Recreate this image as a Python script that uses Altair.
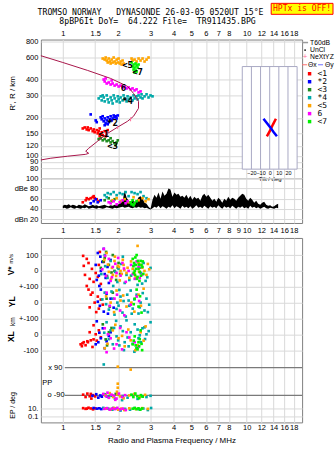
import math
import altair as alt
import pandas as pd

FONT = "Liberation Sans"
MONO = "DejaVu Sans Mono"

SERIES = ["<1", "*2", "<3", "*4", "<5", "6", "<7"]
COLORS = ["#ff0000", "#0000ff", "#1f8c1f", "#00a8a8", "#ffa500", "#ff00ff", "#00f000"]

FREQ_TOP = [1, 1.5, 2, 3, 4, 5, 6, 7, 8, 10, 12, 14, 16, 18]
FREQ_MID = [1, 1.5, 2, 3, 4, 5, 6, 7, 8, 9, 10, 12, 14, 16, 18]
HEIGHT_TICKS = [800, 600, 400, 300, 200, 150, 120, 100, 90, 80]
DB_TICKS = [100, 80, 60, 40, 20]
TILT_TICKS = [-20, -10, 0, 10, 20]
PP_LINES = [90, -90]

TITLE_1 = "TROMSO NORWAY\u00a0\u00a0\u00a0DYNASONDE 26-03-05 0520UT 15\u00b0E"
TITLE_2 = "8pBP6It DoY=\u00a0\u00a064.222 File=\u00a0\u00a0TR911435.BPG"
BADGE = "HPTx is OFF!"

# ---- top panel: echoes (frequency MHz, virtual height km)
ECHO_TOP = {
    "<1": [(1.284,165),(1.316,168),(1.349,162),(1.366,168),(1.383,160),(1.418,165),(1.454,157),(1.472,162),(1.491,154),(1.529,160),(1.548,151),(1.567,157),(1.587,165),(1.607,148),(1.627,154),(1.648,146),(1.689,157),(1.71,143),(1.732,151),(1.754,160),(1.587,143)],
    "*2": [(1.418,213),(1.51,191),(1.529,185),(1.607,202),(1.627,195),(1.648,206),(1.668,188),(1.689,198),(1.71,181),(1.732,191),(1.754,202),(1.776,185),(1.80,195),(1.82,206),(1.843,191),(1.866,198),(1.89,209),(1.913,202),(1.94,206),(1.962,198),(1.99,209),(1.689,175),(1.754,178)],
    "<3": [(1.567,136),(1.607,138),(1.648,133),(1.689,136),(1.732,131),(1.776,133),(1.82,128),(1.866,131),(1.913,126),(1.962,128),(1.99,133),(1.94,122),(1.82,138)],
    "*4": [(1.567,285),(1.607,296),(1.627,275),(1.668,290),(1.689,270),(1.732,301),(1.754,280),(1.776,265),(1.82,290),(1.843,275),(1.866,260),(1.89,301),(1.913,285),(1.962,270),(1.99,296),(2.011,280),(2.04,265),(2.062,290),(2.114,275),(2.14,301),(2.168,285),(2.223,270),(2.25,296),(2.279,280),(2.336,290),(2.395,275),(2.425,301),(2.456,285),(2.518,296),(2.55,280),(2.582,301),(2.647,290),(2.68,307),(2.714,285),(2.783,296),(2.853,307),(2.925,290),(2.999,301),(3.075,296),(1.648,301)],
    "<5": [(1.648,589),(1.689,578),(1.71,600),(1.732,568),(1.754,548),(1.776,589),(1.80,558),(1.82,538),(1.843,578),(1.866,548),(1.89,600),(1.913,558),(1.94,538),(1.962,578),(1.99,548),(2.011,589),(2.04,538),(2.062,558),(2.09,528),(2.114,568),(2.14,538),(2.365,589),(2.395,568),(2.456,578),(2.518,558),(2.582,589),(2.647,568),(2.714,589),(2.783,558),(2.853,578),(2.925,600)],
    "6": [(1.668,402),(1.689,388),(1.71,410),(1.732,374),(1.776,381),(1.82,367),(1.866,374),(1.913,360),(1.962,367),(2.011,354),(2.062,360),(2.114,348),(2.168,354),(2.223,342),(2.279,348),(2.336,336),(2.395,342),(2.456,330),(2.518,336),(2.582,318),(2.647,324),(1.843,395)],
    "<7": [(2.365,548),(2.425,528),(2.487,538),(2.395,509),(2.456,500),(2.518,519),(2.425,482),(2.487,474),(2.55,500),(2.456,457),(2.582,528),(2.518,465)],
}
ECHO_LABELS = [("<1",1.668,148),("*2",1.866,181),("<3",1.866,119),("*4",2.25,270),("<5",2.25,528),("6",2.14,342),("<7",2.55,457)]

PROFILE_F = [0.76,1.0,1.366,1.82,2.25,2.425,2.58,2.58,2.425,2.25,1.987,1.753,1.548,1.383,1.332,1.383,1.332,1.064,0.861,0.76]
PROFILE_R = [620,548,474,410,355,312,270,238,206,188,169,151,131,115,109,105,103,99.6,96,93]
PROFILE_ERR = [(2.336,188,202),(1.987,163,174),(1.75,146,156)]

# tilt inset
TILT_FRAME = [-30, 30]
TILT_HEIGHTS = [78.7, 509]
THETA_X = [(-3.1,143),(0.5,159),(3.5,177),(6.8,197)]
THETA_Y = [(-6.8,197),(-3.8,185),(0.5,169),(4.4,154),(7.9,143)]

# ---- amplitude panel (frequency, top dB, bottom dB)
NOISE = [
    (1.000,46,41),(1.025,48,42),(1.051,47,40),(1.078,49,41),(1.105,46,43),(1.133,48,41),(1.161,47,40),(1.191,45,42),
    (1.221,48,41),(1.252,47,40),(1.284,46,42),(1.316,49,41),(1.349,47,43),(1.383,45,40),(1.418,46,41),(1.454,48,42),
    (1.491,46,41),(1.529,47,40),(1.567,45,42),(1.607,46,41),(1.648,47,40),(1.689,48,41),(1.732,46,43),(1.776,45,42),
    (1.820,47,41),(1.866,46,40),(1.913,48,42),(1.962,47,41),(2.011,49,42),(2.062,52,43),(2.114,55,44),
    (2.168,76,42),(2.223,62,43),(2.279,56,44),(2.336,52,42),(2.395,58,41),(2.456,54,43),(2.518,55,42),(2.582,63,44),
    (2.647,65,42),(2.714,60,43),(2.783,52,41),(2.853,50,42),(2.925,44,40),
    (2.999,40,39),(3.075,58,41),(3.152,68,44),(3.232,62,42),(3.314,72,46),(3.398,60,41),(3.483,74,45),(3.571,66,43),
    (3.662,70,40),(3.754,80,44),(3.849,78,42),(3.946,64,47),(4.046,72,41),(4.148,68,45),(4.253,70,43),(4.360,64,40),
    (4.470,66,46),(4.583,62,42),(4.699,68,44),(4.818,60,41),(4.939,66,45),(5.064,58,40),(5.192,64,43),(5.323,60,47),
    (5.458,62,42),(5.595,56,44),(5.737,66,41),(5.882,70,46),(6.030,64,43),(6.183,68,40),(6.339,62,45),(6.501,56,42),
    (6.664,60,44),(6.833,54,41),(7.005,62,47),(7.183,58,43),(7.364,52,40),(7.551,60,45),(7.741,56,42),(7.937,64,44),
    (8.138,58,41),(8.343,62,46),(8.554,60,43),(8.771,56,40),(8.993,62,44),(9.221,66,42),(9.454,70,45),(9.692,68,41),
    (9.938,60,43),(10.19,56,40),(10.45,62,46),(10.71,58,42),(10.98,52,44),(11.26,56,41),(11.54,50,43),(11.84,48,40),
    (12.13,52,42),(12.44,54,44),(12.76,48,41),(13.08,46,40),(13.41,47,42),(13.75,44,41),(14.10,45,40),(14.45,48,42),
    (14.82,50,41),
]
ECHO_DB = {
    "<1": [(1.284,53),(1.332,57),(1.383,59),(1.418,61),(1.454,63),(1.491,61),(1.529,59),(1.349,61),(1.472,65),(1.567,55)],
    "*2": [(1.418,51),(1.472,55),(1.51,59),(1.548,53),(1.607,57)],
    "<3": [(1.689,57),(1.776,61),(1.913,59),(1.843,55)],
    "*4": [(1.689,67),(1.754,71),(1.82,69),(1.89,73),(1.962,67),(2.04,71),(2.114,69),(2.195,73),(2.279,65),(2.365,73),(2.456,71),(2.55,69),(2.647,73),(2.748,65),(1.732,63),(2.853,61)],
    "<5": [(1.866,57),(1.962,61),(2.062,55),(2.168,59),(2.279,53),(2.425,63),(2.582,57),(2.714,61),(2.818,55),(2.925,59)],
    "6": [(1.82,51),(1.89,55),(1.962,49),(2.04,53),(2.114,57),(2.195,51),(1.776,53),(2.25,55)],
    "<7": [(2.336,53),(2.395,57),(2.456,51),(2.518,55),(2.425,47),(2.365,49)],
}

# ---- lower panel (frequency, value) per band
V_DATA = {
    "<1": [(1.35,76),(1.30,32),(1.38,50),(1.44,13),(1.51,-13),(1.32,-25),(1.40,-50),(1.47,-69),(1.55,-38),(1.61,-82),(1.35,-95),(1.57,38),(1.67,57),(1.29,95),(1.59,120)],
    "*2": [(1.55,113),(1.67,139),(1.51,38),(1.61,0),(1.71,-44),(1.78,-76),(1.53,-57),(1.82,69),(1.58,-95),(1.64,57),(1.75,25),(1.60,90),(1.69,-20),(1.57,-30)],
    "<3": [(1.69,82),(1.78,38),(1.87,100),(1.91,0),(2.01,50),(1.61,19),(1.74,-32),(1.95,-57),(2.05,-19),(1.66,60),(1.84,-10),(1.99,20),(1.72,120)],
    "*4": [(1.82,63),(2.01,13),(2.22,-25),(2.46,38),(2.65,-13),(2.82,-63),(3.00,19),(1.69,100),(2.17,-76),(1.75,-44),(1.93,-6),(2.08,44),(2.30,-57),(2.55,-88),(2.75,50),(1.88,-95),
           (1.62,-20),(1.70,30),(1.98,-70),(2.12,90),(2.35,-30),(2.62,20),(2.88,-40),(2.70,-80)],
    "<5": [(1.73,113),(1.91,63),(1.99,32),(2.06,0),(2.14,38),(2.22,-13),(2.40,13),(2.49,-38),(2.65,38),(2.78,0),(2.55,158),(1.87,-25),(1.78,-6),(1.85,19),(1.95,-32),(2.02,25),(2.09,-19),(2.16,6),(2.30,-44),(2.60,-6),(2.85,-25),(2.90,44),
           (1.68,70),(1.76,40),(1.83,-50),(1.92,90),(2.04,-60),(2.12,70),(2.35,60),(2.45,-15),(2.58,50),(2.70,20),(2.95,10),(2.25,20)],
    "6": [(1.67,139),(1.78,76),(1.87,25),(1.96,-13),(2.11,50),(2.28,0),(2.46,-50),(2.58,25),(1.82,-63),(1.72,-32),(2.00,82),(2.20,-69),(2.35,38),(2.70,-25),
          (1.64,10),(1.70,95),(1.85,-40),(1.93,45),(2.06,-30),(2.15,15),(2.40,-20),(2.52,60),(2.62,-45)],
    "<7": [(2.40,76),(2.49,38),(2.58,13),(2.65,63),(2.43,-13),(2.55,-38),(2.71,25),(2.52,100),(2.61,-63),(2.44,50),(2.47,-25),(2.50,13),(2.56,63),(2.62,-6),(2.68,38),(2.74,-19),
           (2.42,30),(2.46,0),(2.53,-50),(2.59,40),(2.66,-30),(2.72,60),(2.48,85)],
}
YL_DATA = {
    "<1": [(1.38,82),(1.45,63),(1.55,38),(1.61,19),(1.49,0),(1.65,-13),(1.42,50),(1.57,-38),(1.40,-30),(1.52,-60)],
    "*2": [(1.61,82),(1.73,57),(1.82,25),(1.55,6),(1.89,-32),(1.67,-57),(1.59,-20),(1.76,-70)],
    "<3": [(1.73,25),(1.87,63),(1.80,-25)],
    "*4": [(1.69,63),(1.87,25),(2.01,-19),(2.11,-63),(2.28,13),(2.40,-38),(2.52,50),(2.65,0),(2.78,-50),(2.06,38),(1.91,-76),(2.85,25),(2.34,76),(1.78,-44),(2.20,-88),(2.58,-69),(2.95,-13),
           (1.64,20),(1.72,-10),(1.84,70),(1.96,-40),(2.03,80),(2.14,10),(2.24,50),(2.37,-70),(2.45,20),(2.62,-30),(2.72,60),(2.90,-60),(1.98,0),(2.30,-20)],
    "<5": [(1.96,76),(2.06,13),(2.22,-25),(2.58,50),(1.82,0),(2.45,-57),(2.75,88),(1.72,40),(1.90,-60),(2.13,45),(2.36,0),(2.66,-20)],
    "6": [(1.73,63),(1.91,25),(2.34,-13),(2.52,38),(2.05,-50),(1.80,-20),(1.97,50),(2.16,-80),(2.60,10)],
    "<7": [(2.46,25),(2.58,-25),(2.68,-63),(2.52,82),(2.43,-10),(2.63,40)],
}
XL_DATA = {
    "<1": [(1.47,57),(1.40,13),(1.51,0),(1.30,-50),(1.37,-50),(1.42,-38),(1.47,-32),(1.25,-63),(1.33,-69),(1.57,25),(1.61,-19),(1.28,-57),(1.36,-44),(1.45,-80),(1.53,-40),(1.27,-75)],
    "*2": [(1.53,82),(1.65,38),(1.61,-25),(1.51,-63),(1.73,-44),(1.82,13),(1.69,-88),(1.56,-50),(1.58,10),(1.78,-10)],
    "<3": [(1.65,63),(1.78,13),(1.71,-32),(1.74,-70),(1.84,40)],
    "*4": [(1.73,76),(1.82,25),(1.96,-13),(2.06,50),(2.17,-50),(2.34,13),(2.46,63),(2.58,-25),(2.71,38),(2.85,0),(3.00,76),(1.87,-63),(2.28,-76),(2.52,-88),(2.22,88),(2.00,-38),(2.62,-6),(2.78,44),
           (1.68,10),(1.78,-30),(1.90,40),(2.03,-70),(2.12,20),(2.25,-20),(2.40,-60),(2.55,30),(2.66,-50),(2.80,-30),(2.93,20),(1.95,85),(2.15,-100),(2.45,-110)],
    "<5": [(1.87,25),(2.01,-25),(2.17,-76),(2.34,-38),(2.65,13),(2.82,50),(1.69,-88),(2.48,-100),(1.75,-60),(1.93,60),(2.10,-10),(2.27,30),(2.55,-70),(2.75,-40)],
    "6": [(1.69,38),(1.82,-25),(1.96,-63),(2.22,13),(2.46,-50),(1.73,-113),(2.10,-95),(1.76,0),(1.90,-90),(2.05,40),(2.30,-20),(2.58,-80)],
    "<7": [(2.46,-13),(2.58,-50),(2.52,-88),(2.65,25),(2.40,-63),(2.60,-75),(2.43,-40),(2.49,-70),(2.55,-95),(2.62,-30),(2.68,-60),(2.70,-100)],
}
PP_DATA = {
    "<1": [(1.29,-85),(1.33,-100),(1.36,-78),(1.40,-95),(1.43,-110),(1.46,-88),(1.50,-96),(1.42,-80)],
    "*2": [(1.45,-92),(1.52,-82),(1.56,-104),(1.60,-90),(1.63,-98)],
    "<3": [(1.70,-84),(1.78,-100),(1.86,-92),(1.94,-80)],
    "*4": [(1.67,110),(1.68,-82),(1.74,-98),(1.82,-90),(1.92,-110),(2.00,-86),(2.12,-94),(2.25,-104),(2.40,-88),(2.55,-112),(2.70,-95),(2.85,-100),(3.00,-92),(2.10,-120)],
    "<5": [(1.70,-90),(1.80,-75),(1.88,-100),(1.98,-84),(2.05,-96),(2.14,-108),(2.30,-90),(2.45,-80),(2.62,-100),(2.80,-86),(1.99,96),(2.34,77),(1.99,-14),(1.99,-40),(1.97,-66)],
    "6": [(1.66,-80),(1.72,-95),(1.78,-105),(1.84,-85),(1.90,-92),(1.96,-110),(2.02,-78),(2.10,-100),(2.18,-88),(1.75,-72),(1.93,-118)],
    "<7": [(2.36,-85),(2.42,-100),(2.48,-78),(2.54,-95),(2.60,-108),(2.66,-88),(2.72,-98)],
}
EP_DATA = {
    "<1": [(1.29,12),(1.33,8),(1.38,15),(1.42,10),(1.46,6),(1.50,11),(1.35,9)],
    "*2": [(1.47,13),(1.53,9),(1.58,11),(1.62,7)],
    "<3": [(1.72,11),(1.80,7),(1.88,13)],
    "*4": [(1.66,14),(1.76,9),(1.86,5),(1.96,11),(2.06,3),(2.18,8),(2.32,5),(2.46,12),(2.60,6),(2.74,10),(2.90,4),(3.02,13)],
    "<5": [(1.72,10),(1.82,6),(1.90,12),(2.00,5),(2.08,9),(2.16,4),(2.30,11),(2.50,7),(2.70,12),(2.90,8)],
    "6": [(1.68,8),(1.74,12),(1.80,5),(1.86,10),(1.92,7),(1.98,14),(2.05,6),(2.12,9),(2.20,4)],
    "<7": [(2.40,9),(2.46,13),(2.52,7),(2.58,11),(2.64,5),(2.70,10)],
}


# composite vertical coordinate of the lower panel
def pp_u(v):
    return -698 + 0.978 * v


def ep_u(v):
    return -893 + 25 * math.log10(v)


BAND_U = {"V": lambda v: v, "YL": lambda v: v - 200, "XL": lambda v: v - 400, "PP": pp_u, "EP": ep_u}
LOW_TICKS = [100, 0, -100, -200, -300, -400, -500, ep_u(10), ep_u(0.1)]
LOW_LABELS = ["100", "0", "+-100", "0", "+-100", "0", "-100", "10.", "0.1"]
LOW_EXPR = " : ".join(f"datum.value == {v} ? '{t}'" for v, t in zip(LOW_TICKS, LOW_LABELS)) + " : ''"


def series_frame(d, cols):
    rows = [(s,) + tuple(p) for s, pts in d.items() for p in pts]
    return pd.DataFrame(rows, columns=["s"] + cols)


echo_df = series_frame(ECHO_TOP, ["f", "r"])
lab_df = pd.DataFrame(ECHO_LABELS, columns=["t", "f", "r"])
prof_df = pd.DataFrame({"f": PROFILE_F, "r": PROFILE_R, "i": list(range(len(PROFILE_F)))})
err_df = pd.DataFrame(PROFILE_ERR, columns=["f", "r", "r2"])
box_df = pd.DataFrame({"tilt": [TILT_FRAME[0]], "tilt2": [TILT_FRAME[1]], "r": [TILT_HEIGHTS[0]], "r2": [TILT_HEIGHTS[1]]})
vl_df = pd.DataFrame({"tilt": TILT_TICKS, "r": [TILT_HEIGHTS[0]] * len(TILT_TICKS), "r2": [TILT_HEIGHTS[1]] * len(TILT_TICKS)})
tx_df = pd.DataFrame(THETA_X, columns=["tilt", "r"]).assign(i=lambda d: range(len(d)))
ty_df = pd.DataFrame(THETA_Y, columns=["tilt", "r"]).assign(i=lambda d: range(len(d)))
noise_df = pd.DataFrame(NOISE, columns=["f", "db", "db2"])
edb_df = series_frame(ECHO_DB, ["f", "db"])
low_rows = []
for band, d in [("V", V_DATA), ("YL", YL_DATA), ("XL", XL_DATA), ("PP", PP_DATA), ("EP", EP_DATA)]:
    for s, pts in d.items():
        for f, v in pts:
            low_rows.append((s, f, BAND_U[band](v)))
low_df = pd.DataFrame(low_rows, columns=["s", "f", "u"])
pp_df = pd.DataFrame({"u": [pp_u(v) for v in PP_LINES]})
ONE = pd.DataFrame({"k": [0]})

# ---- scales & axes
XSCALE = alt.Scale(type="log", domain=[0.76, 20.0], nice=False)
RSCALE = alt.Scale(type="log", domain=[66.8, 832], nice=False)
DBSCALE = alt.Scale(domain=[12.2, 100.5], nice=False, zero=False)
USCALE = alt.Scale(domain=[-956, 208], nice=False, zero=False)
TSCALE = alt.Scale(domain=TILT_FRAME, range=[202, 257], nice=False, zero=False)

AX = dict(labelFont=FONT, labelFontSize=7.5, labelColor="#000000", domain=False, ticks=False,
          gridColor="#d9d9d9", gridWidth=1, labelOverlap=False, labelFlush=False)

XTOP = alt.Axis(orient="top", values=FREQ_TOP, format="~g", labelPadding=2, title=None, **AX)
XMID = alt.Axis(orient="bottom", values=FREQ_MID, format="~g", labelPadding=4, title=None, **AX)
XBOT = alt.Axis(orient="bottom", values=FREQ_TOP, format="~g", labelPadding=1,
                title="Radio and Plasma Frequency / MHz", titleFont=FONT, titleFontSize=8,
                titleFontWeight="normal", titlePadding=6, **AX)
YR = alt.Axis(values=HEIGHT_TICKS, format="d", labelPadding=3, title=None, **AX)
YDB = alt.Axis(values=DB_TICKS, labelPadding=3, title=None,
               labelExpr="datum.value == 80 ? 'dBe 80' : datum.value == 20 ? 'dBn 20' : datum.label", **AX)
YLOW = alt.Axis(values=LOW_TICKS, labelExpr=LOW_EXPR, labelPadding=3, title=None, **AX)
XTILT = alt.Axis(orient="bottom", offset=-9, values=TILT_TICKS, labelFont=FONT, labelFontSize=5.5,
                 labelPadding=1, domain=False, ticks=False, grid=False, labelOverlap=False,
                 labelFlush=False, title="Tilt / deg", titleFont=FONT, titleFontSize=6,
                 titleFontWeight="normal", titlePadding=0)

LEG = alt.Legend(orient="none", legendX=265.5, legendY=30.3, title=None, symbolType="square",
                 symbolSize=12, symbolStrokeWidth=0, symbolOffset=0, labelFont=MONO, labelFontSize=8,
                 labelOffset=4, rowPadding=0, padding=0)
COLOR = alt.Color("s:N", scale=alt.Scale(domain=SERIES, range=COLORS), legend=LEG)

xf_top = alt.X("f:Q", scale=XSCALE, axis=XTOP)
xf_mid = alt.X("f:Q", scale=XSCALE, axis=XMID)
xf_bot = alt.X("f:Q", scale=XSCALE, axis=XBOT)
y_r = alt.Y("r:Q", scale=RSCALE, axis=YR)
y_db = alt.Y("db:Q", scale=DBSCALE, axis=YDB)
y_u = alt.Y("u:Q", scale=USCALE, axis=YLOW)
x_t = alt.X("tilt:Q", scale=TSCALE, axis=XTILT)


def note(text, x, y, size=7.5, font=FONT, color="black", align="left", angle=0, weight="normal"):
    return alt.Chart(ONE).mark_text(text=text, font=font, fontSize=size, color=color, align=align,
                                    baseline="middle", angle=angle, fontWeight=weight).encode(
        x=alt.value(x), y=alt.value(y))


def seg(x1, x2, y1, y2, color, width=1.0):
    return alt.Chart(ONE).mark_rule(color=color, strokeWidth=width).encode(
        x=alt.value(x1), x2=alt.value(x2), y=alt.value(y1), y2=alt.value(y2))


# ---- top panel
echo = alt.Chart(echo_df).mark_square(size=7, opacity=1).encode(x=xf_top, y=y_r, color=COLOR)
profile = alt.Chart(prof_df).mark_line(color="#a8164a", strokeWidth=1).encode(x=xf_top, y=y_r, order="i:Q")
errs = alt.Chart(err_df).mark_rule(color="#ff6f9a", strokeWidth=1).encode(x=xf_top, y=y_r, y2="r2:Q")
labels = alt.Chart(lab_df).mark_text(font=MONO, fontSize=9, fontWeight="bold", color="black").encode(
    x=xf_top, y=y_r, text="t:N")

badge_box = alt.Chart(ONE).mark_rect(fill="#ffff00", stroke="#ff0000", strokeWidth=1).encode(
    x=alt.value(231), x2=alt.value(293), y=alt.value(-36.3), y2=alt.value(-25.3))
annos = [
    seg(-40, -39, -38, -38, "white", 0.5),
    note(TITLE_1, 110, -26.3, size=8.2, font=MONO, align="center"),
    note(TITLE_2, 117, -17.5, size=8.2, font=MONO, align="center"),
    badge_box,
    note(BADGE, 262, -30.6, size=8.1, font=MONO, color="#ff0000", align="center"),
    note("R', R / km", -27.5, 54, size=8, align="center", angle=270),
    seg(262, 268, 3, 3, "#9a9a9a", 1.5),
    note("T60dB", 270, 3, size=6.8),
    alt.Chart(ONE).mark_circle(size=3, color="black", opacity=1).encode(x=alt.value(265), y=alt.value(10.5)),
    note("UnCl", 270, 10.5, size=6.8),
    note("+", 265, 17.5, size=8, color="#ff6f9a", align="center"),
    note("NeXtYZ", 270, 17.5, size=6.8),
    seg(262, 267, 25.3, 25.3, "#ff6f6f", 1),
    note("\u0398x", 268, 25.3, size=6.8),
    seg(278, 283, 25.3, 25.3, "#6f6fff", 1),
    note("\u0398y", 285, 25.3, size=6.8),
]
main = alt.layer(echo, profile, errs, labels, *annos)

box = alt.Chart(box_df).mark_rect(fill="white", stroke="#a9a9c4", strokeWidth=1).encode(
    x=x_t, x2="tilt2:Q", y=y_r, y2="r2:Q")
vlines = alt.Chart(vl_df).mark_rule(color="#a9a9c4", strokeWidth=1).encode(x=x_t, y=y_r, y2="r2:Q")
cross_x = alt.Chart(tx_df).mark_line(color="#ff0000", strokeWidth=2.5).encode(x=x_t, y=y_r, order="i:Q")
cross_y = alt.Chart(ty_df).mark_line(color="#0000ff", strokeWidth=2.5).encode(x=x_t, y=y_r, order="i:Q")
inset = alt.layer(box, vlines, cross_x, cross_y)

top = alt.layer(main, inset).resolve_scale(x="independent").properties(width=262, height=139)

# ---- amplitude panel
noise = alt.Chart(noise_df).mark_area(color="black", interpolate="linear").encode(x=xf_mid, y=y_db, y2="db2:Q")
edb = alt.Chart(edb_df).mark_square(size=7, opacity=1).encode(x=xf_mid, y=y_db, color=COLOR)
dbe = alt.layer(noise, edb, seg(-40, -39, 58, 58, "white", 0.5)).properties(width=262, height=45)

# ---- lower panel
pp_rules = alt.Chart(pp_df).mark_rule(color="#7a7a7a", strokeWidth=1.3).encode(
    x=alt.value(24), x2=alt.value(262), y=y_u)
low_pts = alt.Chart(low_df).mark_square(size=7, opacity=1).encode(x=xf_bot, y=y_u, color=COLOR)
low_notes = [
    seg(-40, -39, 0.5, 0.5, "white", 0.5),
    note("x 90", 14.5, 130, align="center"),
    note("PP", 6.3, 145, align="center"),
    note("o -90", 15.3, 158, align="center"),
    note("V*", -30, 33, size=8.5, align="center", angle=270, weight="bold"),
    note("m/s", -29.5, 21, size=6, align="center", angle=270),
    note("YL", -29, 64, size=8.5, align="center", angle=270, weight="bold"),
    note("km", -28, 84, size=6.5, align="center", angle=270),
    note("XL", -30, 99, size=8.5, align="center", angle=270, weight="bold"),
    note("EP / deg", -28, 168, size=7, align="center", angle=270),
]
lower = alt.layer(pp_rules, low_pts, *low_notes).properties(width=262, height=185)

upper = alt.vconcat(top, dbe, spacing=0, bounds="flush")
chart = (
    alt.vconcat(upper, lower, spacing=0, bounds="full")
    .properties(padding=0, background="white")
    .configure_view(stroke="#7f7f7f", strokeWidth=1)
)

chart.save("out.html", embed_options={"renderer": "svg", "actions": False})
